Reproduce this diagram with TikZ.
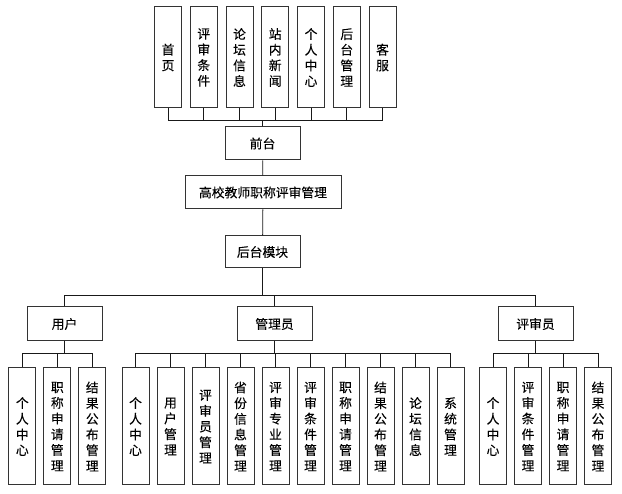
\documentclass[tikz,border=0pt]{standalone}
\usepackage{fontspec}
\setmainfont{Noto Sans CJK SC}[FakeBold=0.15]
\usetikzlibrary{
    calc,
    positioning
}
\tikzset{
    every picture/.style = {
        x = 1pt,
        y = -1pt
    },
    hbox/.style = {
        draw = black!80,
        line width = 1pt,
        minimum width = 75pt,
        minimum height = 33pt,
        inner sep = 1pt,
        font = {\fontsize{12.8}{15}\selectfont}
    },
    vbox/.style = {
        draw = black!80,
        line width = 1pt,
        minimum width = 27pt,
        minimum height = 117pt,
        text width = 13pt,
        align = center,
        inner sep = 1pt,
        font = {\fontsize{12.8}{15.7}\selectfont}
    },
    link/.style = {
        draw = black!90,
        line width = 0.8pt
    }
}

\begin{document}
\begin{tikzpicture}
    \useasboundingbox (0,0) rectangle (622,494);

    % front end
    \foreach \t [count = \i] in {首\\页, 评\\审\\条\\件, 论\\坛\\信\\息, 站\\内\\新\\闻, 个\\人\\中\\心, 后\\台\\管\\理, 客\\服}
        \node[vbox, minimum height = 101pt] (t\i) at ({168 + 35.75*(\i-1)}, 57.5) {\t};

    \node[hbox] (front) at (262.5, 143.5) {前台};
    \node[hbox, minimum width = 156pt] (sys) at (263, 192.5) {高校教师职称评审管理};
    \node[hbox, minimum height = 32pt] (back) at (262.5, 252) {后台模块};

    % roles
    \node[hbox, minimum height = 34pt] (user) at (64.5, 324) {用户};
    \node[hbox, minimum height = 34pt] (admin) at (274.5, 324) {管理员};
    \node[hbox, minimum height = 34pt] (judge) at (535.5, 324) {评审员};

    % modules
    \foreach \t [count = \i] in {个\\人\\中\\心, 职\\称\\申\\请\\管\\理, 结\\果\\公\\布\\管\\理}
        \node[vbox] (u\i) at ({22.3 + 35*(\i-1)}, 426.5) {\t};
    \foreach \t [count = \i] in {个\\人\\中\\心, 用\\户\\管\\理, 评\\审\\员\\管\\理, 省\\份\\信\\息\\管\\理, 评\\审\\专\\业\\管\\理, 评\\审\\条\\件\\管\\理, 职\\称\\申\\请\\管\\理, 结\\果\\公\\布\\管\\理, 论\\坛\\信\\息, 系\\统\\管\\理}
        \node[vbox] (a\i) at ({135.5 + 35*(\i-1)}, 426.5) {\t};
    \foreach \t [count = \i] in {个\\人\\中\\心, 评\\审\\条\\件\\管\\理, 职\\称\\申\\请\\管\\理, 结\\果\\公\\布\\管\\理}
        \node[vbox] (j\i) at ({493 + 35*(\i-1)}, 426.5) {\t};

    % bus levels
    \coordinate (topbus) at (0, 120);
    \coordinate (rolebus) at (0, 295);
    \coordinate (modbus) at (0, 353);

    \foreach \i in {1,...,7}
        \draw[link] (front.north) |- (t\i.south |- topbus) -- (t\i.south);
    \draw[link] (front) -- (sys);
    \draw[link] (sys) -- (back);
    \foreach \r in {user, admin, judge}
        \draw[link] (back.south) |- (\r.north |- rolebus) -- (\r.north);
    \foreach \i in {1,...,3}
        \draw[link] (user.south) |- (u\i.north |- modbus) -- (u\i.north);
    \foreach \i in {1,...,10}
        \draw[link] (admin.south) |- (a\i.north |- modbus) -- (a\i.north);
    \foreach \i in {1,...,4}
        \draw[link] (judge.south) |- (j\i.north |- modbus) -- (j\i.north);
\end{tikzpicture}
\end{document}
